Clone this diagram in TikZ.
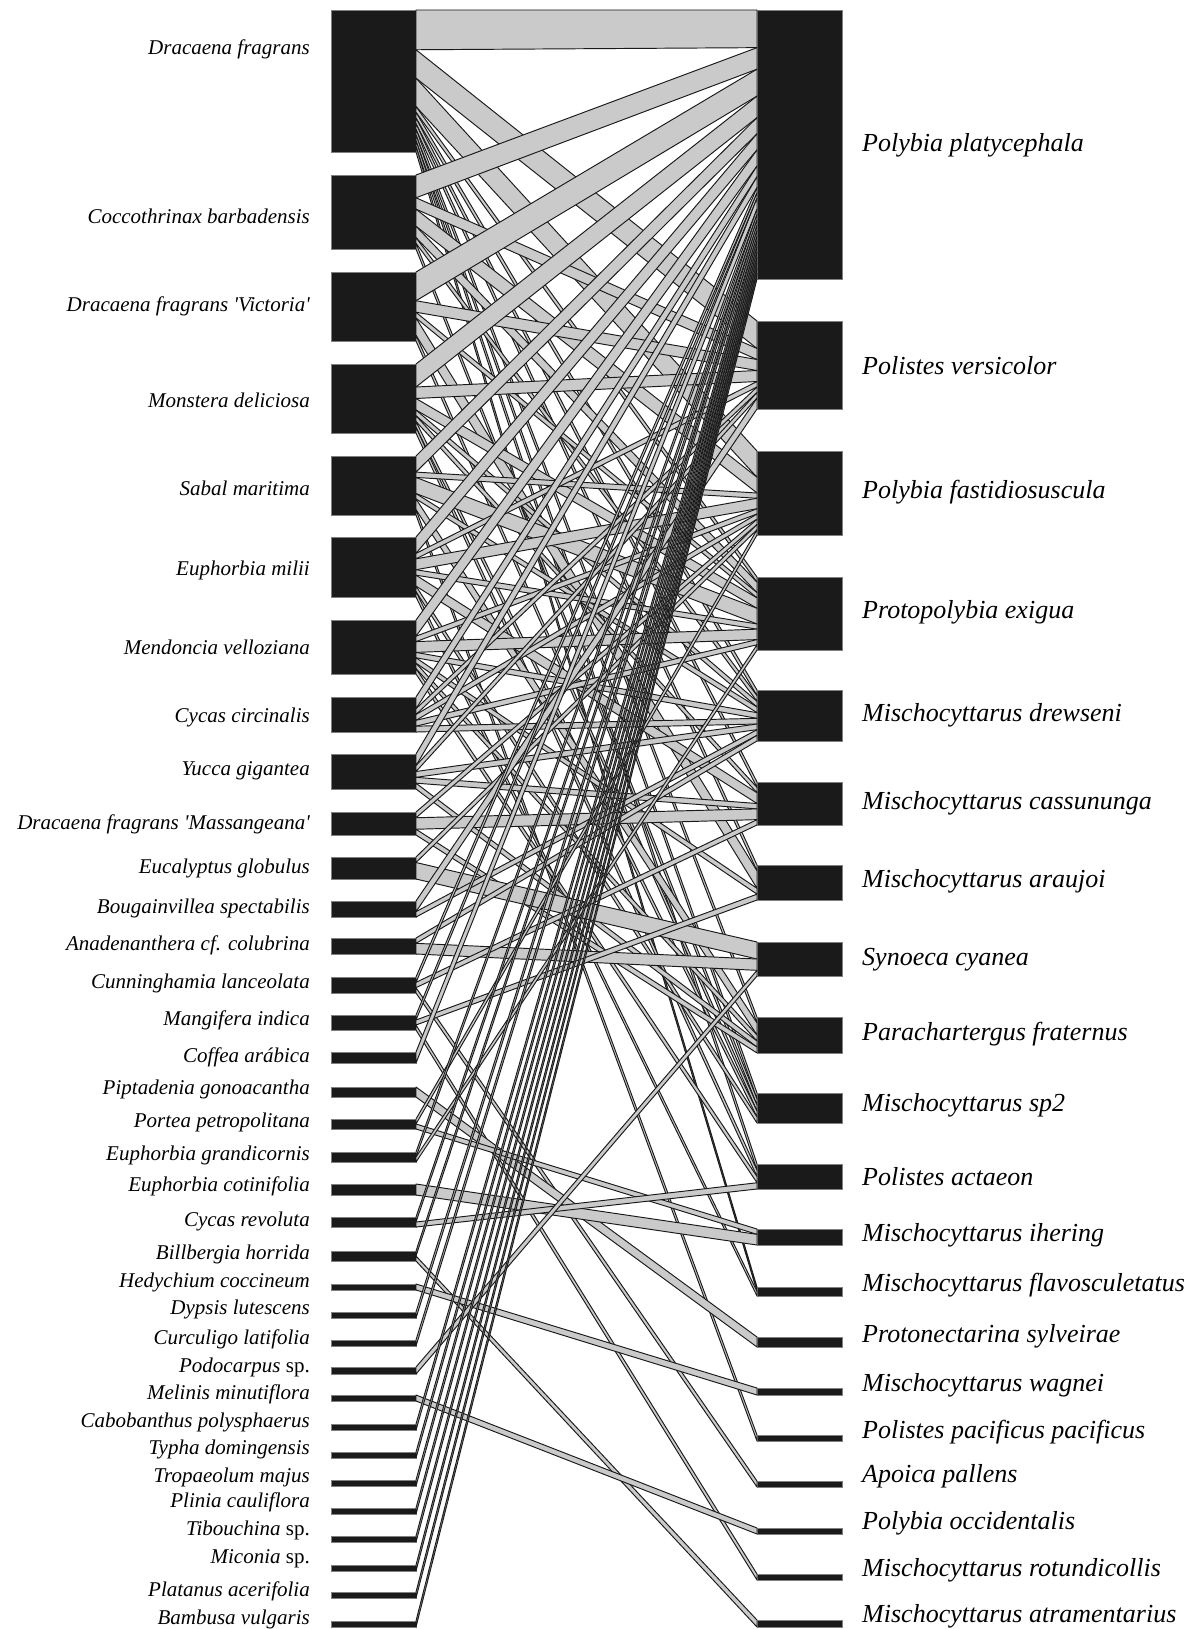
\documentclass[tikz,border=0pt]{standalone}
\usepackage{fontspec}
\setmainfont{Liberation Serif}
\usepackage{tikz}
\usetikzlibrary{calc}
\usetikzlibrary{positioning}

\definecolor{barblack}{RGB}{26,26,26}
\definecolor{bandgrey}{RGB}{202,202,202}

\tikzset{
  plantbar/.style={rectangle, fill=barblack, draw=gray, line width=0.6pt, inner sep=0pt, outer sep=0pt, minimum width=85pt},
  waspbar/.style={rectangle, fill=barblack, draw=gray, line width=0.6pt, inner sep=0pt, outer sep=0pt, minimum width=85pt},
  plantlabel/.style={anchor=east, inner sep=0pt, font=\fontsize{21}{24}\selectfont\itshape},
  wasplabel/.style={anchor=west, inner sep=0pt, font=\fontsize{26}{30}\selectfont\itshape},
  linkband/.style={fill=bandgrey, draw=black!90, line width=0.95pt, line join=round}
}

\begin{document}
\begin{tikzpicture}[x=1pt, y=-1pt]
\useasboundingbox (0,0) rectangle (1203,1629);

% plants: index / top / bottom / interactions / label y / label
\foreach \i/\t/\b/\n/\ly/\lab in {
  1/10/152/25/49/{Dracaena fragrans},
  2/175/249/13/216/{Coccothrinax barbadensis},
  3/272/341/12/306/{Dracaena fragrans \textquotesingle Victoria\textquotesingle},
  4/364/433/12/400/{Monstera deliciosa},
  5/456/515/11/488/{Sabal maritima},
  6/537/597/11/570/{Euphorbia milii},
  7/620/674/10/647/{Mendoncia velloziana},
  8/697/732/6/717/{Cycas circinalis},
  9/754/789/6/771/{Yucca gigantea},
  10/812/835/4/824/{Dracaena fragrans \textquotesingle Massangeana\textquotesingle},
  11/857/879/4/868/{Eucalyptus globulus},
  12/901/917/3/908/{Bougainvillea spectabilis},
  13/938/954/3/945/{Anadenanthera cf. colubrina},
  14/977/993/3/983/{Cunninghamia lanceolata},
  15/1015/1030/3/1020/{Mangifera indica},
  16/1052/1063/2/1057/{Coffea arábica},
  17/1087/1097/2/1089/{Piptadenia gonoacantha},
  18/1119/1129/2/1122/{Portea petropolitana},
  19/1152/1162/2/1155/{Euphorbia grandicornis},
  20/1184/1195/2/1186/{Euphorbia cotinifolia},
  21/1217/1227/2/1221/{Cycas revoluta},
  22/1251/1261/2/1254/{Billbergia horrida},
  23/1284/1290/1/1282/{Hedychium coccineum},
  24/1312/1318/1/1309/{Dypsis lutescens},
  25/1340/1346/1/1339/{Curculigo latifolia},
  26/1367/1374/1/1367/{Podocarpus \textup{sp.}},
  27/1395/1401/1/1394/{Melinis minutiflora},
  28/1424/1430/1/1422/{Cabobanthus polysphaerus},
  29/1452/1458/1/1449/{Typha domingensis},
  30/1480/1486/1/1477/{Tropaeolum majus},
  31/1508/1514/1/1502/{Plinia cauliflora},
  32/1536/1542/1/1530/{Tibouchina \textup{sp.}},
  33/1565/1571/1/1559/{Miconia \textup{sp.}},
  34/1592/1598/1/1591/{Platanus acerifolia},
  35/1621/1627/1/1619/{Bambusa vulgaris}}{
  \pgfmathsetmacro\hgt{\b-\t}
  \pgfmathsetmacro\ymid{(\t+\b)/2}
  \node [plantbar, minimum height=\hgt pt] (P\i) at (373.5,\ymid) {};
  \node [plantlabel] (PL\i) at (310,\ly) {\lab};
  \expandafter\xdef\csname pn\i\endcsname{\n}
  \expandafter\xdef\csname po\i\endcsname{0}
}

% wasps
\foreach \i/\t/\b/\n/\ly/\lab in {
  1/10/279/50/145/{Polybia platycephala},
  2/321/409/16/366/{Polistes versicolor},
  3/451/535/16/492/{Polybia fastidiosuscula},
  4/577/650/14/612/{Protopolybia exigua},
  5/690/741/9/715/{Mischocyttarus drewseni},
  6/782/825/8/803/{Mischocyttarus cassununga},
  7/865/900/6/881/{Mischocyttarus araujoi},
  8/942/976/6/960/{Synoeca cyanea},
  9/1017/1053/6/1034/{Parachartergus fraternus},
  10/1093/1123/5/1105/{Mischocyttarus sp2},
  11/1164/1189/4/1177/{Polistes actaeon},
  12/1229/1245/3/1235/{Mischocyttarus ihering},
  13/1287/1296/2/1285/{Mischocyttarus flavosculetatus},
  14/1337/1347/2/1336/{Protonectarina sylveirae},
  15/1388/1395/1/1385/{Mischocyttarus wagnei},
  16/1435/1441/1/1432/{Polistes pacificus pacificus},
  17/1481/1487/1/1476/{Apoica pallens},
  18/1528/1534/1/1523/{Polybia occidentalis},
  19/1574/1580/1/1570/{Mischocyttarus rotundicollis},
  20/1620/1627/1/1616/{Mischocyttarus atramentarius}}{
  \pgfmathsetmacro\hgt{\b-\t}
  \pgfmathsetmacro\ymid{(\t+\b)/2}
  \node [waspbar, minimum height=\hgt pt] (W\i) at (799.5,\ymid) {};
  \node [wasplabel] (WL\i) at (862,\ly) {\lab};
  \expandafter\xdef\csname wn\i\endcsname{\n}
  \expandafter\xdef\csname wo\i\endcsname{0}
}

% interactions: plant / wasp / count
\foreach \p/\w/\c in {
  1/1/7, 1/2/5, 1/3/5, 1/4/1, 1/5/1, 1/6/1, 1/7/1, 1/9/1, 1/10/1, 1/11/1, 1/13/1,
  2/1/4, 2/2/2, 2/3/3, 2/4/2, 2/5/1, 2/10/1,
  3/1/5, 3/2/2, 3/4/1, 3/7/3, 3/10/1,
  4/1/4, 4/2/2, 4/4/2, 4/5/1, 4/6/1, 4/10/1, 4/11/1,
  5/1/3, 5/3/1, 5/4/3, 5/5/1, 5/9/2, 5/16/1,
  6/1/3, 6/2/1, 6/3/2, 6/4/1, 6/6/2, 6/10/1, 6/13/1,
  7/1/3, 7/3/1, 7/4/2, 7/5/1, 7/7/1, 7/9/1, 7/11/1,
  8/1/2, 8/2/1, 8/3/1, 8/4/1, 8/5/1,
  9/1/2, 9/2/1, 9/5/1, 9/6/1, 9/9/1,
  10/3/1, 10/6/2, 10/9/1,
  11/3/1, 11/8/3,
  12/2/2, 12/5/1,
  13/5/1, 13/8/2,
  14/1/1, 14/6/1, 14/17/1,
  15/1/1, 15/7/1, 15/19/1,
  16/1/2,
  17/14/2,
  18/3/1, 18/12/1,
  19/1/1, 19/4/1,
  20/12/2,
  21/1/1, 21/11/1,
  22/1/1, 22/20/1,
  23/15/1,
  24/1/1, 25/1/1,
  26/8/1,
  27/18/1,
  28/1/1, 29/1/1, 30/1/1, 31/1/1, 32/1/1, 33/1/1, 34/1/1, 35/1/1}{
  \edef\pn{\csname pn\p\endcsname}
  \edef\po{\csname po\p\endcsname}
  \edef\wn{\csname wn\w\endcsname}
  \edef\wo{\csname wo\w\endcsname}
  \pgfmathsetmacro\fa{\po/\pn}
  \pgfmathsetmacro\fb{(\po+\c)/\pn}
  \pgfmathsetmacro\ga{\wo/\wn}
  \pgfmathsetmacro\gb{(\wo+\c)/\wn}
  \filldraw [linkband] ($(P\p.north east)!\fa!(P\p.south east)$)
    -- ($(W\w.north west)!\ga!(W\w.south west)$)
    -- ($(W\w.north west)!\gb!(W\w.south west)$)
    -- ($(P\p.north east)!\fb!(P\p.south east)$) -- cycle;
  \pgfmathtruncatemacro\npo{\po+\c}
  \expandafter\xdef\csname po\p\endcsname{\npo}
  \pgfmathtruncatemacro\nwo{\wo+\c}
  \expandafter\xdef\csname wo\w\endcsname{\nwo}
}
\end{tikzpicture}
\end{document}
